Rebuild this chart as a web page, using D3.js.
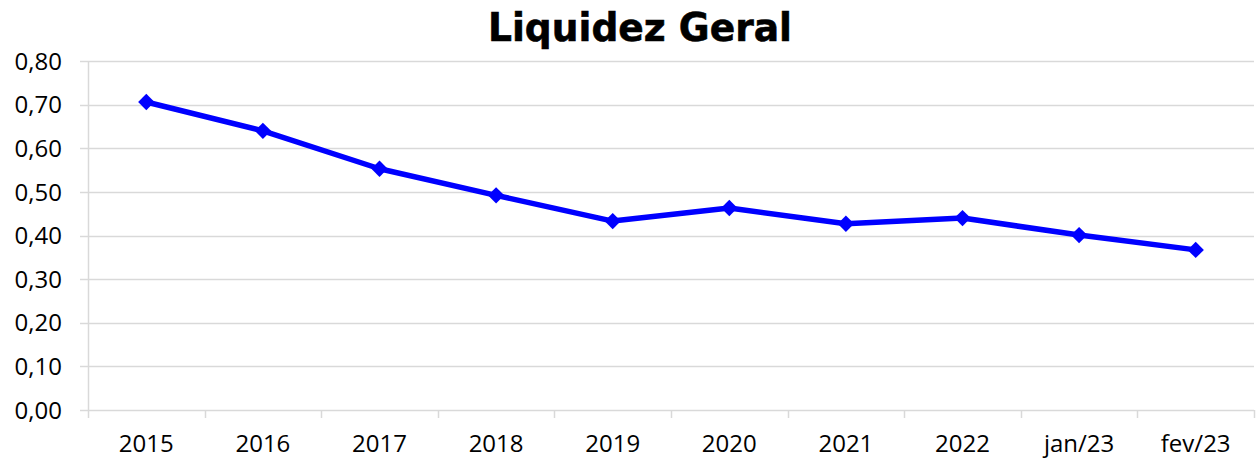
<!DOCTYPE html>
<html>
<head>
<meta charset="utf-8">
<script src="https://cdn.jsdelivr.net/npm/d3@7"></script>
<style>
  body { margin: 0; background: #fff; }
  svg { display: block; }
</style>
</head>
<body>
<div id="chart"></div>
<script>
  var categories = ["2015", "2016", "2017", "2018", "2019", "2020", "2021", "2022", "jan/23", "fev/23"];
  var values = [0.706, 0.640, 0.553, 0.492, 0.433, 0.463, 0.427, 0.440, 0.401, 0.367];
  var yTicks = [0, 0.1, 0.2, 0.3, 0.4, 0.5, 0.6, 0.7, 0.8];

  var w = 1256, h = 461;
  var margin = {top: 61, right: 2, bottom: 51, left: 88};

  var svg = d3.select("#chart").append("svg")
      .attr("width", w)
      .attr("height", h);

  var x = d3.scaleBand()
      .domain(categories)
      .range([margin.left, w - margin.right]);
  var y = d3.scaleLinear()
      .domain([0, 0.8])
      .range([h - margin.bottom, margin.top]);

  var fmt = function(v) { return d3.format(".2f")(v).replace(".", ","); };

  // grid lines
  svg.append("g")
    .selectAll("line")
    .data(yTicks)
    .enter().append("line")
      .attr("x1", margin.left - 8)
      .attr("x2", w - margin.right)
      .attr("y1", function(d) { return Math.round(y(d)) + 0.5; })
      .attr("y2", function(d) { return Math.round(y(d)) + 0.5; })
      .attr("stroke", "#d9d9d9")
      .attr("stroke-width", 1.5);

  // y axis line
  svg.append("line")
    .attr("x1", margin.left + 0.5).attr("x2", margin.left + 0.5)
    .attr("y1", y(0.8)).attr("y2", y(0))
    .attr("stroke", "#d9d9d9")
    .attr("stroke-width", 1.5);

  // x tick marks at category boundaries
  var bounds = categories.map(function(c) { return x(c); }).concat([x.range()[1]]);
  svg.append("g")
    .selectAll("line")
    .data(bounds)
    .enter().append("line")
      .attr("x1", function(d) { return Math.round(d) + 0.5; })
      .attr("x2", function(d) { return Math.round(d) + 0.5; })
      .attr("y1", y(0))
      .attr("y2", y(0) + 8)
      .attr("stroke", "#d9d9d9")
      .attr("stroke-width", 1.5);

  // y labels
  svg.append("g")
    .selectAll("text")
    .data(yTicks)
    .enter().append("text")
      .attr("x", 62)
      .attr("y", function(d) { return y(d); })
      .attr("dy", "0.36em")
      .attr("text-anchor", "end")
      .style("font-family", "'Open Sans', sans-serif")
      .style("font-size", "24px")
      .attr("fill", "#000")
      .text(fmt);

  // x labels
  svg.append("g")
    .selectAll("text")
    .data(categories)
    .enter().append("text")
      .attr("x", function(d) { return x(d) + x.bandwidth() / 2; })
      .attr("y", 452)
      .attr("text-anchor", "middle")
      .style("font-family", "'Open Sans', sans-serif")
      .style("font-size", "24px")
      .attr("fill", "#000")
      .text(function(d) { return d; });

  // title
  svg.append("text")
    .attr("x", 640)
    .attr("y", 41)
    .attr("text-anchor", "middle")
    .style("font-family", "'DejaVu Sans', sans-serif")
    .style("font-weight", "bold")
    .style("font-size", "39px")
    .attr("textLength", 304)
    .attr("lengthAdjust", "spacingAndGlyphs")
    .attr("stroke", "#000")
    .attr("stroke-width", 0.6)
    .text("Liquidez Geral");

  var data = categories.map(function(c, i) { return {cat: c, val: values[i]}; });

  var line = d3.line()
      .x(function(d) { return x(d.cat) + x.bandwidth() / 2; })
      .y(function(d) { return y(d.val); });

  svg.append("path")
    .datum(data)
    .attr("d", line)
    .attr("fill", "none")
    .attr("stroke", "#0000ff")
    .attr("stroke-width", 5.5)
    .attr("stroke-linejoin", "round");

  svg.append("g")
    .selectAll("path")
    .data(data)
    .enter().append("path")
      .attr("d", d3.symbol().type(d3.symbolDiamond2).size(170))
      .attr("transform", function(d) {
        return "translate(" + (x(d.cat) + x.bandwidth() / 2) + "," + y(d.val) + ")"; })
      .attr("fill", "#0000ff");
</script>
</body>
</html>
